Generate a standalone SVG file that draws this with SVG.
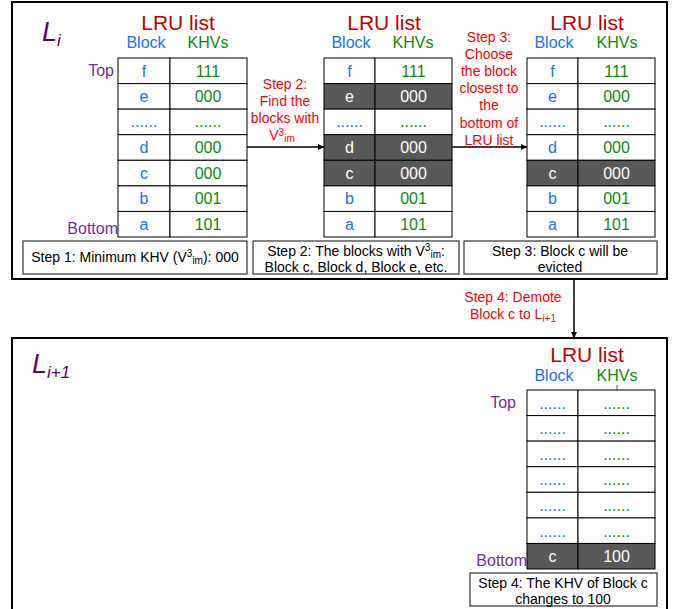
<svg xmlns="http://www.w3.org/2000/svg" width="678" height="609" viewBox="0 0 678 609">
<defs>
<style>
text{font-family:"Liberation Sans",Arial,sans-serif}
.frame{fill:#fff;stroke:#000;stroke-width:2}
.cell{fill:#fff;stroke:#000;stroke-width:1}
.dark{fill:#595959;stroke:#000;stroke-width:1}
.box{fill:#fff;stroke:#333;stroke-width:1.2}
.title{font-size:21px;fill:#c00000;text-anchor:middle}
.hb{font-size:16px;fill:#1a6fff;text-anchor:middle}
.hk{font-size:16px;fill:#118811;text-anchor:middle}
.b{font-size:16px;fill:#1a6fff;text-anchor:middle}
.k{font-size:16px;fill:#118811;text-anchor:middle}
.w{font-size:16px;fill:#fff;text-anchor:middle}
.pos{font-size:16px;fill:#7030a0;text-anchor:end}
.lv{font-size:27px;fill:#660066;font-style:italic}
.red{font-size:14px;fill:#ff0000;text-anchor:middle}
.note{font-size:14px;fill:#000;text-anchor:middle}
.conn{stroke:#000;stroke-width:1.5;fill:none}
</style>
<marker id="ah" viewBox="0 0 10 10" refX="10" refY="5" markerWidth="6" markerHeight="6" orient="auto" markerUnits="userSpaceOnUse">
<path d="M0,0 L10,5 L0,10 z" fill="#000"/>
</marker>
</defs>
<rect width="678" height="609" fill="#fff"/>

<g id="level-i">
<rect class="frame" x="12" y="2" width="655" height="277"/>
<text class="lv" x="42" y="41">L<tspan font-size="17" dy="5">i</tspan></text>
</g>

<g id="level-i1">
<rect class="frame" x="12" y="338" width="655" height="290"/>
<text class="lv" x="32" y="373">L<tspan font-size="17" dy="5">i+1</tspan></text>
</g>

<g id="lru1">
<text class="title" x="178" y="30">LRU list</text>
<text class="hb" x="146" y="48">Block</text>
<text class="hk" x="208" y="48">KHVs</text>
<text class="pos" x="114" y="76">Top</text>
<text class="pos" x="118" y="234">Bottom</text>
<rect class="cell" x="118" y="58" width="52" height="25.6"/><rect class="cell" x="170" y="58" width="77" height="25.6"/>
<rect class="cell" x="118" y="83.6" width="52" height="25.6"/><rect class="cell" x="170" y="83.6" width="77" height="25.6"/>
<rect class="cell" x="118" y="109.1" width="52" height="25.6"/><rect class="cell" x="170" y="109.1" width="77" height="25.6"/>
<rect class="cell" x="118" y="134.7" width="52" height="25.6"/><rect class="cell" x="170" y="134.7" width="77" height="25.6"/>
<rect class="cell" x="118" y="160.3" width="52" height="25.6"/><rect class="cell" x="170" y="160.3" width="77" height="25.6"/>
<rect class="cell" x="118" y="185.9" width="52" height="25.6"/><rect class="cell" x="170" y="185.9" width="77" height="25.6"/>
<rect class="cell" x="118" y="211.4" width="52" height="25.6"/><rect class="cell" x="170" y="211.4" width="77" height="25.6"/>
<text class="b" x="144" y="77">f</text><text class="k" x="208" y="77">111</text>
<text class="b" x="144" y="102">e</text><text class="k" x="208" y="102">000</text>
<text class="b" x="144" y="127">......</text><text class="k" x="208" y="127">......</text>
<text class="b" x="144" y="153">d</text><text class="k" x="208" y="153">000</text>
<text class="b" x="144" y="179">c</text><text class="k" x="208" y="179">000</text>
<text class="b" x="144" y="204">b</text><text class="k" x="208" y="204">001</text>
<text class="b" x="144" y="230">a</text><text class="k" x="208" y="230">101</text>
</g>

<g id="lru2">
<text class="title" x="384" y="30">LRU list</text>
<text class="hb" x="351" y="48">Block</text>
<text class="hk" x="413" y="48">KHVs</text>
<rect class="cell" x="324" y="58" width="51" height="25.6"/><rect class="cell" x="375" y="58" width="77" height="25.6"/>
<rect class="dark" x="324" y="83.6" width="51" height="25.6"/><rect class="dark" x="375" y="83.6" width="77" height="25.6"/>
<rect class="cell" x="324" y="109.1" width="51" height="25.6"/><rect class="cell" x="375" y="109.1" width="77" height="25.6"/>
<rect class="dark" x="324" y="134.7" width="51" height="25.6"/><rect class="dark" x="375" y="134.7" width="77" height="25.6"/>
<rect class="dark" x="324" y="160.3" width="51" height="25.6"/><rect class="dark" x="375" y="160.3" width="77" height="25.6"/>
<rect class="cell" x="324" y="185.9" width="51" height="25.6"/><rect class="cell" x="375" y="185.9" width="77" height="25.6"/>
<rect class="cell" x="324" y="211.4" width="51" height="25.6"/><rect class="cell" x="375" y="211.4" width="77" height="25.6"/>
<text class="b" x="349.5" y="77">f</text><text class="k" x="413.5" y="77">111</text>
<text class="w" x="349.5" y="102">e</text><text class="w" x="413.5" y="102">000</text>
<text class="b" x="349.5" y="127">......</text><text class="k" x="413.5" y="127">......</text>
<text class="w" x="349.5" y="153">d</text><text class="w" x="413.5" y="153">000</text>
<text class="w" x="349.5" y="179">c</text><text class="w" x="413.5" y="179">000</text>
<text class="b" x="349.5" y="204">b</text><text class="k" x="413.5" y="204">001</text>
<text class="b" x="349.5" y="230">a</text><text class="k" x="413.5" y="230">101</text>
</g>

<g id="lru3">
<text class="title" x="587" y="30">LRU list</text>
<text class="hb" x="554" y="48">Block</text>
<text class="hk" x="617" y="48">KHVs</text>
<rect class="cell" x="527" y="58" width="51" height="25.6"/><rect class="cell" x="578" y="58" width="77" height="25.6"/>
<rect class="cell" x="527" y="83.6" width="51" height="25.6"/><rect class="cell" x="578" y="83.6" width="77" height="25.6"/>
<rect class="cell" x="527" y="109.1" width="51" height="25.6"/><rect class="cell" x="578" y="109.1" width="77" height="25.6"/>
<rect class="cell" x="527" y="134.7" width="51" height="25.6"/><rect class="cell" x="578" y="134.7" width="77" height="25.6"/>
<rect class="dark" x="527" y="160.3" width="51" height="25.6"/><rect class="dark" x="578" y="160.3" width="77" height="25.6"/>
<rect class="cell" x="527" y="185.9" width="51" height="25.6"/><rect class="cell" x="578" y="185.9" width="77" height="25.6"/>
<rect class="cell" x="527" y="211.4" width="51" height="25.6"/><rect class="cell" x="578" y="211.4" width="77" height="25.6"/>
<text class="b" x="552.5" y="77">f</text><text class="k" x="616.5" y="77">111</text>
<text class="b" x="552.5" y="102">e</text><text class="k" x="616.5" y="102">000</text>
<text class="b" x="552.5" y="127">......</text><text class="k" x="616.5" y="127">......</text>
<text class="b" x="552.5" y="153">d</text><text class="k" x="616.5" y="153">000</text>
<text class="w" x="552.5" y="179">c</text><text class="w" x="616.5" y="179">000</text>
<text class="b" x="552.5" y="204">b</text><text class="k" x="616.5" y="204">001</text>
<text class="b" x="552.5" y="230">a</text><text class="k" x="616.5" y="230">101</text>
</g>

<g id="lru4">
<text class="title" x="587" y="362">LRU list</text>
<text class="hb" x="554" y="381">Block</text>
<text class="hk" x="617" y="381">KHVs</text>
<line x1="617" y1="385" x2="617" y2="390" stroke="#555" stroke-width="1"/>
<text class="pos" x="516" y="408">Top</text>
<text class="pos" x="527" y="566">Bottom</text>
<rect class="cell" x="527" y="390" width="51" height="25.6"/><rect class="cell" x="578" y="390" width="77" height="25.6"/>
<rect class="cell" x="527" y="415.6" width="51" height="25.6"/><rect class="cell" x="578" y="415.6" width="77" height="25.6"/>
<rect class="cell" x="527" y="441.1" width="51" height="25.6"/><rect class="cell" x="578" y="441.1" width="77" height="25.6"/>
<rect class="cell" x="527" y="466.7" width="51" height="25.6"/><rect class="cell" x="578" y="466.7" width="77" height="25.6"/>
<rect class="cell" x="527" y="492.3" width="51" height="25.6"/><rect class="cell" x="578" y="492.3" width="77" height="25.6"/>
<rect class="cell" x="527" y="517.9" width="51" height="25.6"/><rect class="cell" x="578" y="517.9" width="77" height="25.6"/>
<rect class="dark" x="527" y="543.4" width="51" height="25.6"/><rect class="dark" x="578" y="543.4" width="77" height="25.6"/>
<text class="b" x="552.5" y="409">......</text><text class="k" x="616.5" y="409">......</text>
<text class="b" x="552.5" y="434">......</text><text class="k" x="616.5" y="434">......</text>
<text class="b" x="552.5" y="460">......</text><text class="k" x="616.5" y="460">......</text>
<text class="b" x="552.5" y="485">......</text><text class="k" x="616.5" y="485">......</text>
<text class="b" x="552.5" y="511">......</text><text class="k" x="616.5" y="511">......</text>
<text class="b" x="552.5" y="537">......</text><text class="k" x="616.5" y="537">......</text>
<text class="w" x="552.5" y="562">c</text><text class="w" x="616.5" y="562">100</text>
</g>

<g id="step1-box">
<rect class="box" x="23" y="241" width="224" height="33"/>
<text class="note" x="135" y="262">Step 1: Minimum KHV (V<tspan font-size="10" dy="-5">3</tspan><tspan font-size="10" dy="7">im</tspan><tspan dy="-2">): 000</tspan></text>
</g>

<g id="step2-box">
<rect class="box" x="253" y="241" width="206" height="33"/>
<text class="note" x="356" y="256">Step 2: The blocks with V<tspan font-size="10" dy="-5">3</tspan><tspan font-size="10" dy="7">im</tspan><tspan dy="-2">:</tspan></text>
<text class="note" x="356" y="272">Block c, Block d, Block e, etc.</text>
</g>

<g id="step3-box">
<rect class="box" x="464" y="241" width="193" height="33"/>
<text class="note" x="560" y="256">Step 3: Block c will be</text>
<text class="note" x="560" y="272">evicted</text>
</g>

<g id="step4-box">
<rect class="box" x="470" y="573" width="187" height="33"/>
<text class="note" x="563" y="588">Step 4: The KHV of Block c</text>
<text class="note" x="563" y="604">changes to 100</text>
</g>

<g id="connectors">
<line class="conn" x1="247" y1="147" x2="324" y2="147" marker-end="url(#ah)"/>
<line class="conn" x1="452" y1="147" x2="527" y2="147" marker-end="url(#ah)"/>
<line class="conn" x1="574" y1="279" x2="574" y2="338" marker-end="url(#ah)"/>
<text class="red" x="285" y="89">Step 2:</text>
<text class="red" x="285" y="106">Find the</text>
<text class="red" x="285" y="123">blocks with</text>
<text class="red" x="282" y="140">V<tspan font-size="10" dy="-4">3</tspan><tspan font-size="10" dy="6">im</tspan></text>
<text class="red" x="489" y="42">Step 3:</text>
<text class="red" x="489" y="59">Choose</text>
<text class="red" x="489" y="76">the block</text>
<text class="red" x="489" y="93">closest to</text>
<text class="red" x="489" y="110">the</text>
<text class="red" x="489" y="128">bottom of</text>
<text class="red" x="489" y="145">LRU list</text>
<text class="red" x="513" y="302">Step 4: Demote</text>
<text class="red" x="513" y="319">Block c to L<tspan font-size="10" dy="3">i+1</tspan></text>
</g>
</svg>
